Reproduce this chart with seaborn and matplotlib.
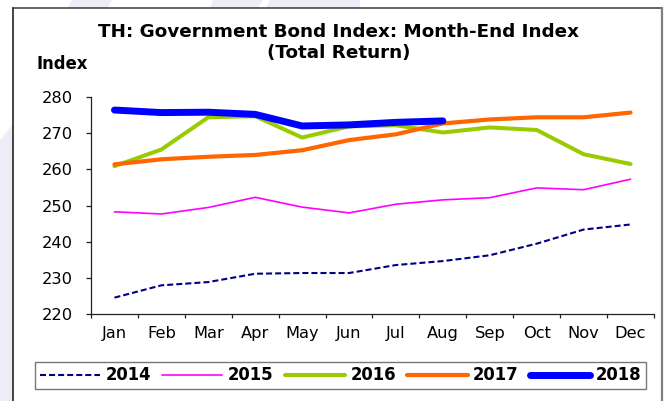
import numpy as np
import matplotlib
matplotlib.use("Agg")
import matplotlib.pyplot as plt
from matplotlib.patches import Polygon
from matplotlib.lines import Line2D
import seaborn as sns

# Month-end total return index by year
months = ["Jan", "Feb", "Mar", "Apr", "May", "Jun",
          "Jul", "Aug", "Sep", "Oct", "Nov", "Dec"]
idx_2014 = [224.6, 228.0, 228.9, 231.2, 231.4, 231.4, 233.6, 234.7, 236.3, 239.5, 243.4, 244.8]
idx_2015 = [248.3, 247.7, 249.5, 252.3, 249.6, 248.0, 250.4, 251.6, 252.2, 254.9, 254.4, 257.3]
idx_2016 = [260.9, 265.5, 274.4, 274.7, 268.8, 271.9, 272.2, 270.2, 271.6, 270.9, 264.2, 261.5]
idx_2017 = [261.4, 262.8, 263.5, 264.0, 265.3, 268.1, 269.7, 272.7, 273.8, 274.4, 274.4, 275.7]
idx_2018 = [276.4, 275.7, 275.8, 275.2, 272.0, 272.3, 273.0, 273.4]
years = ["2014", "2015", "2016", "2017", "2018"]
yticks = [220, 230, 240, 250, 260, 270, 280]

W, H = 666, 401
plt.rcParams["font.family"] = ["DejaVu Sans"]
fig = plt.figure(figsize=(W / 100, H / 100), dpi=100)
fig.patch.set_facecolor("white")


def fp(x, y):
    return (x / W, 1 - y / H)


# faint lavender backdrop shapes around the panel
lav = "#ededf7"
for poly in ([(0, 401), (0, 140), (13, 124), (13, 401)],
             [(72, 0), (112, 0), (108, 8), (68, 8)],
             [(213, 0), (263, 0), (258, 8), (210, 8)],
             [(270, 0), (360, 0), (360, 8), (266, 8)]):
    fig.add_artist(Polygon([fp(*p) for p in poly], closed=True,
                           transform=fig.transFigure, facecolor=lav,
                           edgecolor="none", zorder=0))

# panel border
fig.add_artist(Line2D([fp(13, 8)[0], fp(13, 401)[0]], [fp(13, 8)[1], fp(13, 401)[1]],
                      transform=fig.transFigure, color="#111111", lw=1.1))
fig.add_artist(Line2D([fp(13, 8)[0], fp(662, 8)[0]], [fp(13, 8)[1], fp(662, 8)[1]],
                      transform=fig.transFigure, color="#3a3a3a", lw=1.1))
fig.add_artist(Line2D([fp(662, 8)[0], fp(662, 401)[0]], [fp(662, 8)[1], fp(662, 401)[1]],
                      transform=fig.transFigure, color="#808080", lw=1.6))

left, right, top, bottom = 91, 654, 97, 314.3
ax = fig.add_axes([left / W, 1 - bottom / H, (right - left) / W, (bottom - top) / H])
ax.set_facecolor("none")

x = np.arange(len(months))
styles = [
    (idx_2014, "#000080", 1.5, (0, (2.9, 1.45))),
    (idx_2015, "#ff00ff", 1.2, "-"),
    (idx_2016, "#99cc00", 2.9, "-"),
    (idx_2017, "#ff6600", 3.0, "-"),
    (idx_2018, "#0000ff", 5.0, "-"),
]
for yr, (vals, col, lw, ls) in zip(years, styles):
    sns.lineplot(x=x[:len(vals)], y=vals, ax=ax, color=col, linewidth=lw,
                 linestyle=ls, label=yr, solid_capstyle="round",
                 solid_joinstyle="round", dash_capstyle="butt")

handles, labels = ax.get_legend_handles_labels()
if ax.get_legend() is not None:
    ax.get_legend().remove()

ax.set_xlim(-0.5, len(months) - 0.5)
ax.set_ylim(yticks[0], yticks[-1])
ax.set_yticks(yticks)
ax.set_yticklabels([str(v) for v in yticks])
ax.set_xticks(np.arange(-0.5, len(months), 1.0))
ax.set_xticklabels([])
ax.set_xticks(x, minor=True)
ax.set_xticklabels(months, minor=True)
ax.tick_params(axis="x", which="major", direction="out", length=3.2, width=0.9, color="#222222")
ax.tick_params(axis="x", which="minor", length=0, pad=8.5, labelsize=11.7)
ax.tick_params(axis="y", direction="out", length=3.6, width=0.9, color="#222222",
               pad=9.5, labelsize=11.7)
ax.set_xlabel("")
ax.set_ylabel("")
for s in ("top", "right"):
    ax.spines[s].set_visible(False)
for s in ("left", "bottom"):
    ax.spines[s].set_color("#222222")
    ax.spines[s].set_linewidth(0.9)

fig.text(338.5 / W, 1 - 23 / H,
         "TH: Government Bond Index: Month-End Index\n(Total Return)",
         ha="center", va="top", fontsize=13.2, fontweight="bold",
         linespacing=1.2)
fig.text(36 / W, 1 - 64 / H, "Index", ha="left", va="center",
         fontsize=11.9, fontweight="bold")

leg = fig.legend(handles, labels, loc="center", bbox_to_anchor=fp(340.5, 375.5),
                 ncol=5, frameon=True, fancybox=False, handlelength=3.65,
                 handletextpad=0.33, columnspacing=0.68, borderpad=0.25,
                 prop={"weight": "bold", "size": 11.9})
leg.get_frame().set_edgecolor("#555555")
leg.get_frame().set_linewidth(1.0)

fig.savefig("out.png", dpi=100, facecolor=fig.get_facecolor())
